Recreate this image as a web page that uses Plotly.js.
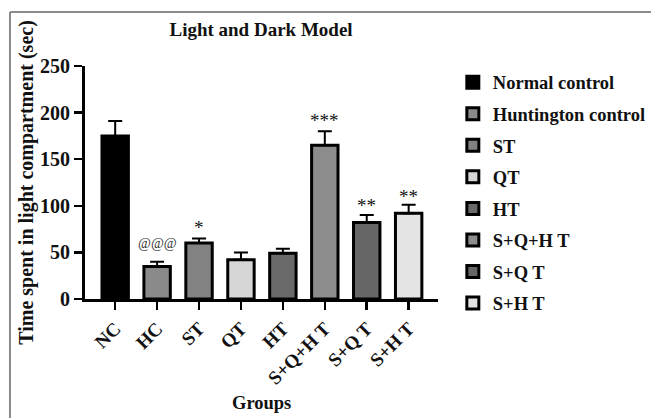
<!DOCTYPE html>
<html>
<head>
<meta charset="utf-8">
<script src="https://cdn.plot.ly/plotly-3.0.1.min.js"></script>
<style>html,body{margin:0;padding:0;background:#fff;}#chart{width:651px;height:418px;}</style>
</head>
<body>
<div id="chart"></div>
<script>
// ---- data ----
const categories = ["NC", "HC", "ST", "QT", "HT", "S+Q+H T", "S+Q T", "S+H T"];
const legendNames = ["Normal control", "Huntington control", "ST", "QT", "HT", "S+Q+H T", "S+Q T", "S+H T"];
const meanValues = [175, 35, 60, 42, 49, 165, 82, 92];
const errorValues = [16, 5, 5, 8, 5, 15, 8, 9];
const barColors = ["#000000", "#8a8a8a", "#828282", "#d6d6d6", "#6a6a6a", "#8c8c8c", "#666666", "#e4e4e4"];
const sigLabels = ["", "@@@", "*", "", "", "***", "**", "**"];
const sigLabelY = [0, 60, 77, 0, 0, 192, 100, 110];

const FONT = "Liberation Serif, Times New Roman, serif";

const traces = categories.map((c, i) => ({
  type: "bar",
  x: [c],
  y: [meanValues[i]],
  name: legendNames[i],
  legendgroup: "g" + i,
  width: 0.63,
  marker: { color: barColors[i], line: { color: "#000", width: 3 } },
  error_y: { type: "data", array: [errorValues[i]], arrayminus: [0], symmetric: false,
             color: "#000", thickness: 2, width: 7 },
  hoverinfo: "x+y"
}));

const annotations = [];
categories.forEach((c, i) => {
  if (sigLabels[i]) {
    const isAt = sigLabels[i].startsWith("@");
    annotations.push({
      x: c, y: sigLabelY[i], xref: "x", yref: "y",
      text: sigLabels[i], showarrow: false, yanchor: "middle",
      font: { family: FONT, size: isAt ? 14 : 19, color: isAt ? "#333" : "#111" }
    });
  }
});
annotations.push({
  text: "<b>Groups</b>", xref: "paper", yref: "paper", x: 0.5, y: -0.445,
  showarrow: false, yanchor: "middle", font: { family: FONT, size: 18.5, color: "#111" }
});

const layout = {
  width: 651, height: 418,
  margin: { l: 85, r: 213, t: 66, b: 119, autoexpand: false },
  paper_bgcolor: "#fff", plot_bgcolor: "#fff",
  barmode: "overlay",
  showlegend: true,
  title: { text: "<b>Light and Dark Model</b>", x: 0.401, xanchor: "center", y: 0.93, yanchor: "middle",
           font: { family: FONT, size: 19, color: "#111" } },
  xaxis: {
    type: "category", categoryorder: "array", categoryarray: categories,
    range: [-0.72, 7.7], showline: true, linecolor: "#000", linewidth: 3,
    ticks: "outside", ticklen: 8, tickwidth: 2.5, tickcolor: "#000",
    tickangle: -45, tickfont: { family: FONT, size: 19, color: "#111", weight: "bold" },
    showgrid: false, zeroline: false
  },
  yaxis: {
    range: [0, 250], tickvals: [0, 50, 100, 150, 200, 250],
    showline: true, linecolor: "#000", linewidth: 3,
    ticks: "outside", ticklen: 8, tickwidth: 2.5, tickcolor: "#000",
    tickfont: { family: FONT, size: 20, color: "#111", weight: "bold" },
    showgrid: false, zeroline: false,
    title: { text: "<b>Time spent in light compartment (sec)</b>", standoff: 2,
             font: { family: FONT, size: 20, color: "#111" } }
  },
  legend: {
    x: 1.042, xanchor: "left", y: 1.01, yanchor: "top", maxheight: 1000,
    font: { family: FONT, size: 18.5, color: "#111", weight: "bold" },
    tracegroupgap: 4.5, traceorder: "grouped", bgcolor: "rgba(0,0,0,0)"
  },
  annotations: annotations,
  shapes: [
    { type: "line", xref: "paper", yref: "paper", x0: -0.2125, x1: -0.2125, y0: -0.52, y1: 1.2318,
      line: { color: "#8a8a8a", width: 2 } },
    { type: "line", xref: "paper", yref: "paper", x0: -0.2125, x1: 1.62, y0: 1.2318, y1: 1.2318,
      line: { color: "#8a8a8a", width: 2 } }
  ]
};

Plotly.newPlot("chart", traces, layout, { displayModeBar: false, staticPlot: true });
</script>
</body>
</html>
